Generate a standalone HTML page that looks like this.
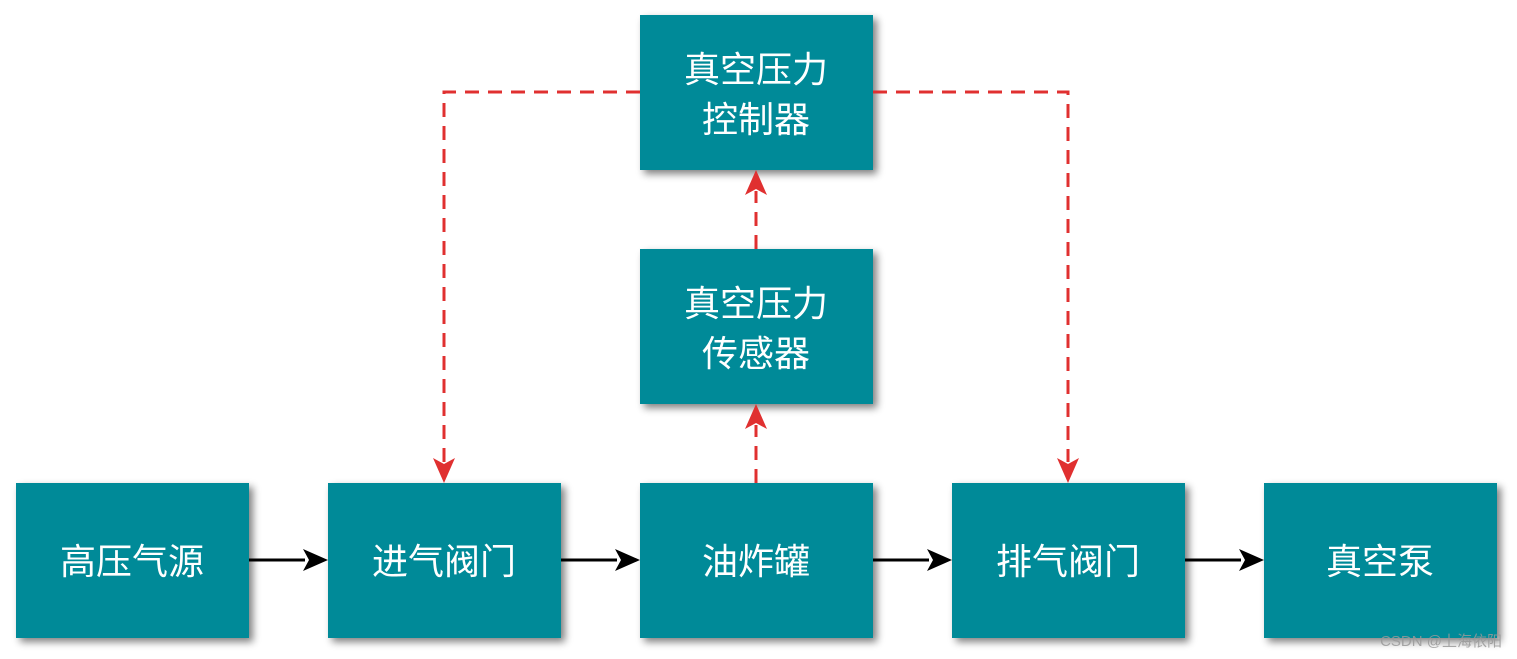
<!DOCTYPE html>
<html><head><meta charset="utf-8"><style>
html,body{margin:0;padding:0;background:#fff;width:1517px;height:659px;overflow:hidden}
text{font-family:"Liberation Sans","Noto Sans CJK SC",sans-serif}
</style></head><body>
<svg width="1517" height="659" viewBox="0 0 1517 659" xmlns="http://www.w3.org/2000/svg">
<defs>
<filter id="sh" x="-10%" y="-10%" width="130%" height="130%">
<feGaussianBlur in="SourceAlpha" stdDeviation="4"/>
<feOffset dx="4" dy="4" result="b"/>
<feComponentTransfer><feFuncA type="linear" slope="0.5"/></feComponentTransfer>
<feMerge><feMergeNode/><feMergeNode in="SourceGraphic"/></feMerge>
</filter>
</defs>
<g fill="#008a98" filter="url(#sh)">
<rect x="16" y="483" width="233" height="155"/>
<rect x="328" y="483" width="233" height="155"/>
<rect x="640" y="483" width="233" height="155"/>
<rect x="952" y="483" width="233" height="155"/>
<rect x="1264" y="483" width="233" height="155"/>
<rect x="640" y="249" width="233" height="155"/>
<rect x="640" y="15" width="233" height="155"/>
</g>
<g fill="#fff" font-size="36" text-anchor="middle">
<text x="132" y="574">高压气源</text>
<text x="444" y="574">进气阀门</text>
<text x="756" y="574">油炸罐</text>
<text x="1068" y="574">排气阀门</text>
<text x="1380" y="574">真空泵</text>
<text x="756" y="316">真空压力</text>
<text x="756" y="366">传感器</text>
<text x="756" y="82">真空压力</text>
<text x="756" y="132">控制器</text>
</g>
<g stroke="#000" stroke-width="3">
<line x1="249" y1="560" x2="305" y2="560"/>
<line x1="561" y1="560" x2="617" y2="560"/>
<line x1="873" y1="560" x2="929" y2="560"/>
<line x1="1185" y1="560" x2="1241" y2="560"/>
</g>
<g fill="#000">
<polygon points="328,560 303,549 309,560 303,571"/>
<polygon points="640,560 615,549 621,560 615,571"/>
<polygon points="952,560 927,549 933,560 927,571"/>
<polygon points="1264,560 1239,549 1245,560 1239,571"/>
</g>
<g stroke="#e03030" stroke-width="3" fill="none" stroke-dasharray="14 9">
<polyline points="640,92 444,92 444,462"/>
<polyline points="873,92 1068,92 1068,462"/>
<line x1="756" y1="483" x2="756" y2="425"/>
<line x1="756" y1="249" x2="756" y2="191"/>
</g>
<g fill="#e03030">
<polygon points="444,483 433,458 444,464 455,458"/>
<polygon points="1068,483 1057,458 1068,464 1079,458"/>
<polygon points="756,404 745,429 756,423 767,429"/>
<polygon points="756,170 745,195 756,189 767,195"/>
</g>
<text x="1502" y="646" font-size="15" fill="#999" text-anchor="end" opacity="0.85">CSDN @上海依阳</text>
</svg>
</body></html>
